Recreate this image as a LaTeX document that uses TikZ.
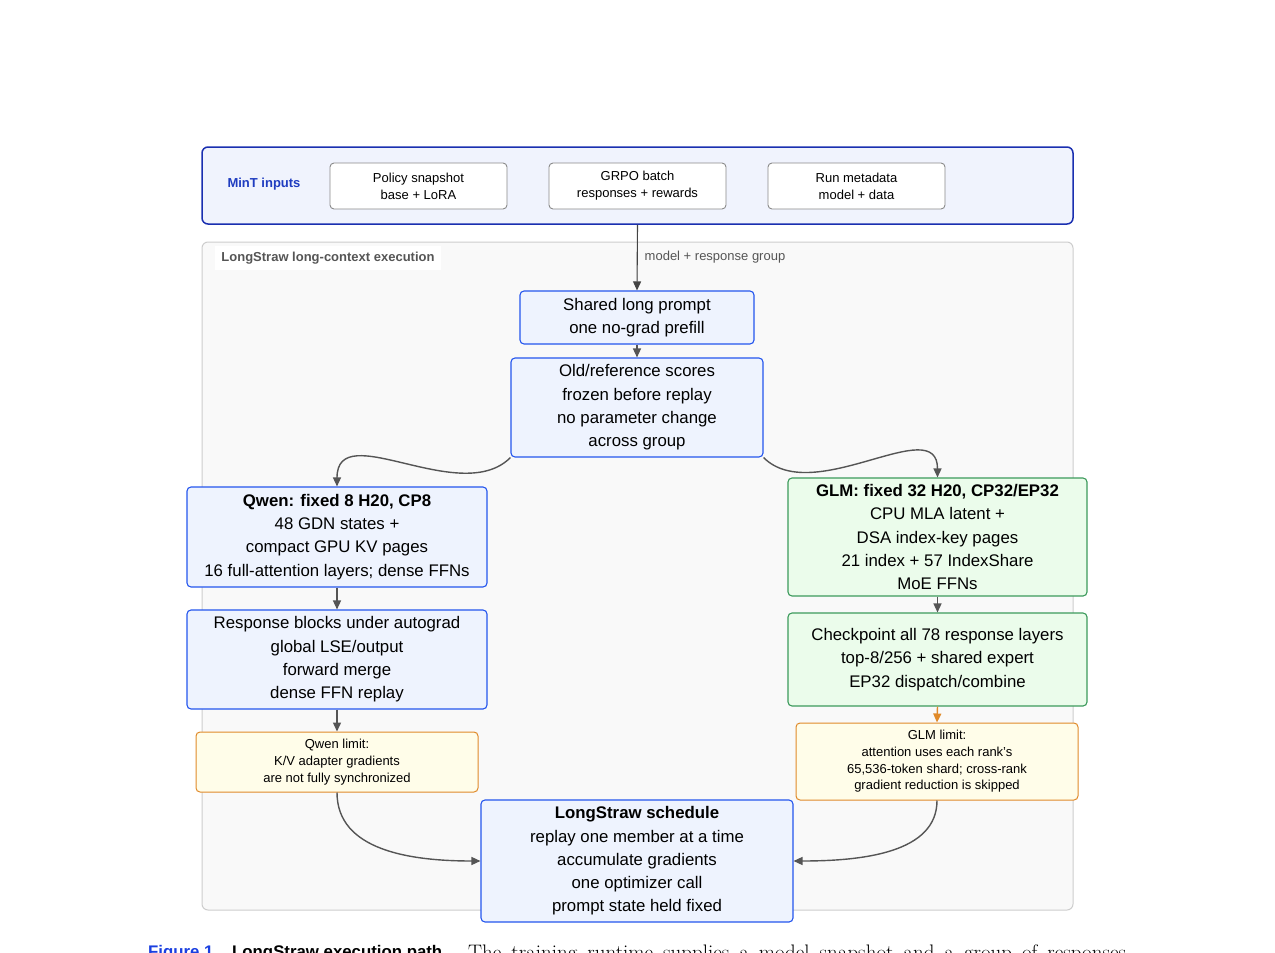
\documentclass[tikz,border=0pt]{standalone}
\usepackage{fontspec}
\setsansfont{Liberation Sans}
\usetikzlibrary{arrows.meta}
\definecolor{mintborder}{HTML}{1A2FB0}
\definecolor{mintfill}{HTML}{F0F3FD}
\definecolor{minttext}{HTML}{1F3CC0}
\definecolor{inborder}{HTML}{8A8A8A}
\definecolor{contfill}{HTML}{F9F9F9}
\definecolor{contborder}{HTML}{CDCDCD}
\definecolor{labgray}{HTML}{555555}
\definecolor{blueborder}{HTML}{2456EE}
\definecolor{bluefill}{HTML}{EEF3FE}
\definecolor{greenborder}{HTML}{3C9A5C}
\definecolor{greenfill}{HTML}{EBFCEB}
\definecolor{yelborder}{HTML}{E08A2A}
\definecolor{yelfill}{HTML}{FFFDE9}
\definecolor{arrgray}{HTML}{555555}
\definecolor{capblue}{HTML}{1A3FE0}
\begin{document}
\begin{tikzpicture}[x=1pt,y=-1pt,
  mainbox/.style={draw, rounded corners=4pt, align=center, inner sep=0pt, line width=1.1pt,
    font=\sffamily\fontsize{16.8}{23.3}\selectfont},
  bluebox/.style={mainbox, draw=blueborder, fill=bluefill},
  greenbox/.style={mainbox, draw=greenborder, fill=greenfill},
  yelbox/.style={draw=yelborder, fill=yelfill, rounded corners=4pt, align=center, inner sep=0pt, line width=1pt,
    font=\sffamily\fontsize{13}{17}\selectfont},
  inbox/.style={draw=inborder, fill=white, rounded corners=4pt, align=center, inner sep=0pt, line width=0.9pt,
    minimum width=177pt, minimum height=46pt, font=\sffamily\fontsize{13}{17}\selectfont},
  arr/.style={draw=arrgray, line width=1.4pt, -{Triangle[length=9pt,width=8pt]}, arrgray},
  oarr/.style={draw=yelborder, line width=1.4pt, -{Triangle[length=9pt,width=8pt]}, yelborder},
]
\useasboundingbox (0,0) rectangle (1275,953);

% top inputs box
\node[draw=mintborder, fill=mintfill, rounded corners=6pt, line width=1.5pt,
  minimum width=871pt, minimum height=77pt, inner sep=0pt] (mint) at (637.5,185.5) {};
\node[font=\sffamily\bfseries\fontsize{13}{15}\selectfont, text=minttext, inner sep=0pt] (mintlbl) at (264,184) {MinT inputs};
\node[inbox] (policy) at (418.5,186) {Policy snapshot\\base + LoRA};
\node[inbox] (grpo) at (637.5,186) {GRPO batch\\responses + rewards};
\node[inbox] (meta) at (856.5,186) {Run metadata\\model + data};

% container
\node[draw=contborder, fill=contfill, rounded corners=6pt, line width=1pt,
  minimum width=871pt, minimum height=668pt, inner sep=0pt] (cont) at (637.5,576) {};
\node[fill=white, text=labgray, font=\sffamily\bfseries\fontsize{13}{15}\selectfont,
  minimum width=226pt, minimum height=24pt, inner sep=0pt] (contlbl) at (328,258) {LongStraw long-context execution};

% center column
\node[bluebox, minimum width=234pt, minimum height=53pt] (shared) at (637,317.5) {Shared long prompt\\one no-grad prefill};
\node[bluebox, minimum width=252pt, minimum height=99pt] (old) at (637,407.5) {Old/reference scores\\frozen before replay\\no parameter change\\across group};

% left column
\node[bluebox, minimum width=300pt, minimum height=100pt] (qwen) at (337,537) {{\bfseries Qwen: fixed 8 H20, CP8}\\48 GDN states +\\compact GPU KV pages\\16 full-attention layers; dense FFNs};
\node[bluebox, minimum width=300pt, minimum height=99pt] (resp) at (337,659.5) {Response blocks under autograd\\global LSE/output\\forward merge\\dense FFN replay};
\node[yelbox, minimum width=282pt, minimum height=60pt] (qlim) at (337,762) {Qwen limit:\\K/V adapter gradients\\are not fully synchronized};

% right column
\node[greenbox, minimum width=299pt, minimum height=118pt] (glm) at (937.5,537) {{\bfseries GLM: fixed 32 H20, CP32/EP32}\\CPU MLA latent +\\DSA index-key pages\\21 index + 57 IndexShare\\MoE FFNs};
\node[greenbox, minimum width=299pt, minimum height=93pt] (ckpt) at (937.5,659.5) {Checkpoint all 78 response layers\\top-8/256 + shared expert\\EP32 dispatch/combine};
\node[yelbox, minimum width=282pt, minimum height=77pt, font=\sffamily\fontsize{13}{16.7}\selectfont] (glim) at (937,761.5) {GLM limit:\\attention uses each rank's\\65,536-token shard; cross-rank\\gradient reduction is skipped};

% schedule
\node[bluebox, minimum width=312pt, minimum height=122pt] (sched) at (637,861) {{\bfseries LongStraw schedule}\\replay one member at a time\\accumulate gradients\\one optimizer call\\prompt state held fixed};

% connectors
\draw[draw=labgray!80!black, line width=1.1pt, -{Triangle[length=9pt,width=8pt]}, fill=labgray] (mint.south) -- (shared.north);
\node[text=labgray, font=\sffamily\fontsize{13}{15}\selectfont, inner sep=0pt] (edgelbl) at (715,257) {model + response group};
\draw[arr] (shared.south) -- (old.north);
\draw[arr] (old.south west) .. controls +(-50,50) and +(0,-70) .. (qwen.north);
\draw[arr] (old.south east) .. controls +(50,50) and +(0,-66) .. (glm.north);
\draw[arr] (qwen.south) -- (resp.north);
\draw[arr] (resp.south) -- (qlim.north);
\draw[arr] (glm.south) -- (ckpt.north);
\draw[oarr] (ckpt.south) -- (glim.north);
\draw[arr] (qlim.south) .. controls +(0,58) and +(-70,0) .. (sched.west);
\draw[arr] (glim.south) .. controls +(0,52) and +(70,0) .. (sched.east);

% caption (cut off by the page edge, as in the reference)
\node[anchor=base west, inner sep=0pt, text=capblue, font=\sffamily\bfseries\fontsize{16.8}{19}\selectfont] (figlbl) at (148,957) {Figure 1.};
\node[anchor=base west, inner sep=0pt, font=\sffamily\bfseries\fontsize{16.8}{19}\selectfont] (figtitle) at (232,957) {LongStraw execution path.};
\node[anchor=base west, inner sep=0pt, font=\rmfamily\fontsize{21}{25}\selectfont] (figtext) at (468,959) {\makebox[658pt][s]{The training runtime supplies a model snapshot and a group of responses}};
\end{tikzpicture}
\end{document}
